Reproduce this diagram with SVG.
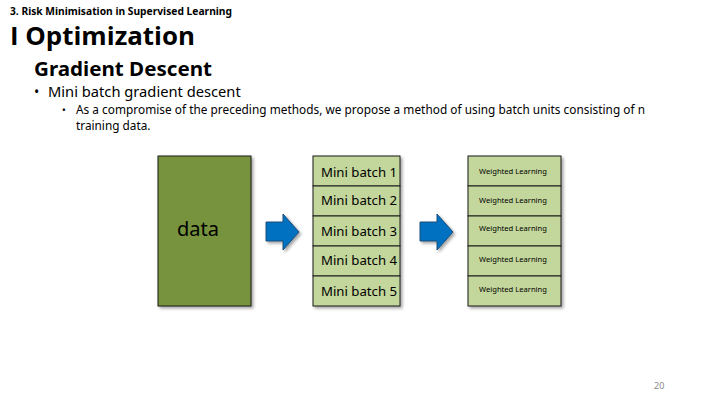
<svg xmlns="http://www.w3.org/2000/svg" width="720" height="405" viewBox="0 0 720 405">
<defs>
<filter id="sh" x="-10%" y="-10%" width="130%" height="130%">
<feDropShadow dx="2" dy="2" stdDeviation="1.5" flood-color="#000" flood-opacity="0.35"/>
</filter>
<style>
text{font-family:"Noto Sans","Open Sans",sans-serif;fill:#000}
.b{font-weight:bold}
.cell{fill:#C3D69B;stroke:#1a1a1a;stroke-width:1}
.mb{font-size:13.2px}
.wl{font-size:7.6px;text-anchor:middle}
.arr{fill:#0070C0;stroke:#1F4E79;stroke-width:1}
</style>
</defs>
<rect width="720" height="405" fill="#fff"/>
<text class="b" x="10" y="14.5" font-size="10" textLength="222" lengthAdjust="spacingAndGlyphs">3. Risk Minimisation in Supervised Learning</text>
<text class="b" x="10" y="45" font-size="25.5" style="font-family:'Open Sans','Noto Sans',sans-serif" textLength="185" lengthAdjust="spacingAndGlyphs">I Optimization</text>
<text class="b" x="34" y="76" font-size="19" textLength="178" lengthAdjust="spacingAndGlyphs">Gradient Descent</text>
<text x="34" y="97" font-size="14">•</text>
<text x="48" y="97" font-size="14.7">Mini batch gradient descent</text>
<text x="62" y="114" font-size="10">•</text>
<text x="76" y="114" font-size="11.8" textLength="569" lengthAdjust="spacing">As a compromise of the preceding methods, we propose a method of using batch units consisting of n</text>
<text x="76" y="130" font-size="11.8">training data.</text>

<g id="data">
<rect x="158" y="156" width="93" height="150" fill="#77933C" stroke="#1a1a1a" filter="url(#sh)"/>
<text x="198" y="236" font-size="20" text-anchor="middle">data</text>
</g>

<g id="minibatches" filter="url(#sh)">
<rect class="cell" x="313" y="156" width="87" height="30"/>
<rect class="cell" x="313" y="186" width="87" height="30"/>
<rect class="cell" x="313" y="216" width="87" height="30"/>
<rect class="cell" x="313" y="246" width="87" height="30"/>
<rect class="cell" x="313" y="276" width="87" height="30"/>
</g>
<g id="minibatch-labels">
<text class="mb" x="321" y="177">Mini batch 1</text>
<text class="mb" x="321" y="205">Mini batch 2</text>
<text class="mb" x="321" y="236">Mini batch 3</text>
<text class="mb" x="321" y="265">Mini batch 4</text>
<text class="mb" x="321" y="296">Mini batch 5</text>
</g>

<g id="weighted" filter="url(#sh)">
<rect class="cell" x="468" y="156" width="93" height="30"/>
<rect class="cell" x="468" y="186" width="93" height="30"/>
<rect class="cell" x="468" y="216" width="93" height="30"/>
<rect class="cell" x="468" y="246" width="93" height="30"/>
<rect class="cell" x="468" y="276" width="93" height="30"/>
</g>
<g id="weighted-labels">
<text class="wl" x="513" y="174">Weighted Learning</text>
<text class="wl" x="513" y="203">Weighted Learning</text>
<text class="wl" x="513" y="231">Weighted Learning</text>
<text class="wl" x="513" y="262">Weighted Learning</text>
<text class="wl" x="513" y="292">Weighted Learning</text>
</g>

<g id="connectors" filter="url(#sh)">
<path class="arr" d="M266,222 H283 V214 L299,232 L283,250 V241 H266 Z"/>
<path class="arr" d="M420,222 H437 V214 L453,232 L437,250 V241 H420 Z"/>
</g>

<text x="654" y="389" font-size="9" style="fill:#888">20</text>
</svg>
